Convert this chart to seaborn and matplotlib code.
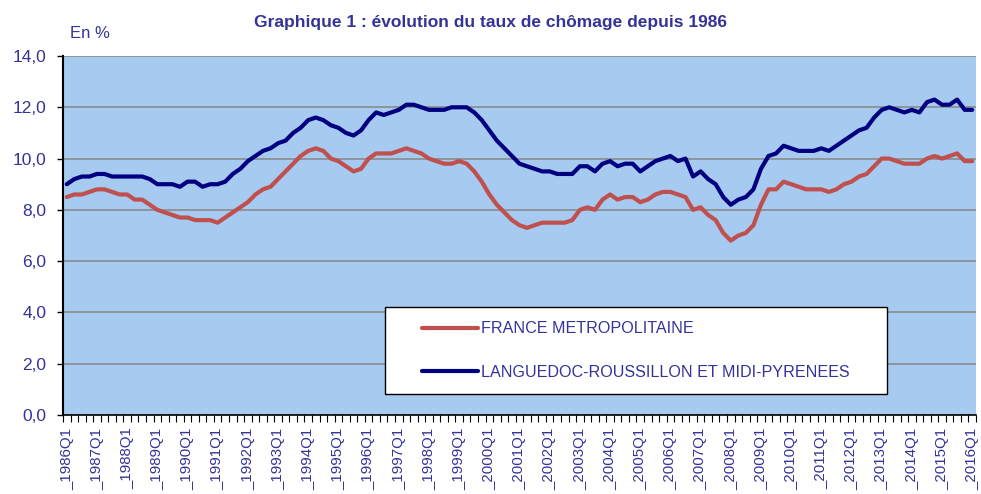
import numpy as np
import pandas as pd
import matplotlib
matplotlib.use('Agg')
import matplotlib.pyplot as plt
import seaborn as sns
from matplotlib.lines import Line2D
from matplotlib.legend_handler import HandlerLine2D

# Trimestres de 1986Q1 a 2016Q1
annees = list(range(1986, 2017))
trimestres = [f"{a}Q{q}" for a in annees for q in range(1, 5)][:121]

# Taux de chomage France metropolitaine (en %)
france = [
    8.5, 8.6, 8.6, 8.7, 8.8, 8.8, 8.7, 8.6, 8.6, 8.4,
    8.4, 8.2, 8.0, 7.9, 7.8, 7.7, 7.7, 7.6, 7.6, 7.6,
    7.5, 7.7, 7.9, 8.1, 8.3, 8.6, 8.8, 8.9, 9.2, 9.5,
    9.8, 10.1, 10.3, 10.4, 10.3, 10.0, 9.9, 9.7, 9.5, 9.6,
    10.0, 10.2, 10.2, 10.2, 10.3, 10.4, 10.3, 10.2, 10.0, 9.9,
    9.8, 9.8, 9.9, 9.8, 9.5, 9.1, 8.6, 8.2, 7.9, 7.6,
    7.4, 7.3, 7.4, 7.5, 7.5, 7.5, 7.5, 7.6, 8.0, 8.1,
    8.0, 8.4, 8.6, 8.4, 8.5, 8.5, 8.3, 8.4, 8.6, 8.7,
    8.7, 8.6, 8.5, 8.0, 8.1, 7.8, 7.6, 7.1, 6.8, 7.0,
    7.1, 7.4, 8.2, 8.8, 8.8, 9.1, 9.0, 8.9, 8.8, 8.8,
    8.8, 8.7, 8.8, 9.0, 9.1, 9.3, 9.4, 9.7, 10.0, 10.0,
    9.9, 9.8, 9.8, 9.8, 10.0, 10.1, 10.0, 10.1, 10.2, 9.9, 9.9,
]

# Taux de chomage Languedoc-Roussillon et Midi-Pyrenees (en %)
region = [
    9.0, 9.2, 9.3, 9.3, 9.4, 9.4, 9.3, 9.3, 9.3, 9.3,
    9.3, 9.2, 9.0, 9.0, 9.0, 8.9, 9.1, 9.1, 8.9, 9.0,
    9.0, 9.1, 9.4, 9.6, 9.9, 10.1, 10.3, 10.4, 10.6, 10.7,
    11.0, 11.2, 11.5, 11.6, 11.5, 11.3, 11.2, 11.0, 10.9, 11.1,
    11.5, 11.8, 11.7, 11.8, 11.9, 12.1, 12.1, 12.0, 11.9, 11.9,
    11.9, 12.0, 12.0, 12.0, 11.8, 11.5, 11.1, 10.7, 10.4, 10.1,
    9.8, 9.7, 9.6, 9.5, 9.5, 9.4, 9.4, 9.4, 9.7, 9.7,
    9.5, 9.8, 9.9, 9.7, 9.8, 9.8, 9.5, 9.7, 9.9, 10.0,
    10.1, 9.9, 10.0, 9.3, 9.5, 9.2, 9.0, 8.5, 8.2, 8.4,
    8.5, 8.8, 9.6, 10.1, 10.2, 10.5, 10.4, 10.3, 10.3, 10.3,
    10.4, 10.3, 10.5, 10.7, 10.9, 11.1, 11.2, 11.6, 11.9, 12.0,
    11.9, 11.8, 11.9, 11.8, 12.2, 12.3, 12.1, 12.1, 12.3, 11.9, 11.9,
]

series = ["FRANCE METROPOLITAINE", "LANGUEDOC-ROUSSILLON ET MIDI-PYRENEES"]
couleurs = {"FRANCE METROPOLITAINE": "#C0504D",
            "LANGUEDOC-ROUSSILLON ET MIDI-PYRENEES": "#000080"}

x = np.arange(len(trimestres))
df = pd.concat([
    pd.DataFrame({"x": x, "Taux": france, "Zone": series[0]}),
    pd.DataFrame({"x": x, "Taux": region, "Zone": series[1]}),
])

sns.set_style("white")
plt.rcParams['font.family'] = ['Liberation Sans', 'DejaVu Sans']
texte = "#333399"

fig = plt.figure(figsize=(9.81, 4.94), dpi=100)
ax = fig.add_axes([63 / 981, 1 - 415 / 494, 913 / 981, 359 / 494])
ax.set_facecolor("#A6CAF0")

sns.lineplot(data=df, x="x", y="Taux", hue="Zone", palette=couleurs,
             linewidth=3, ax=ax, legend=True)
for ln in ax.get_lines():
    ln.set_solid_capstyle("round")
    ln.set_solid_joinstyle("round")

ax.set_xlim(-0.5, len(trimestres) - 0.5)
ax.set_ylim(0, 14)
ax.set_yticks(np.arange(0, 15, 2))
ax.set_yticklabels([f"{v:.1f}".replace(".", ",") for v in np.arange(0, 15, 2)])
ax.yaxis.grid(True, color="#868686", linewidth=1.1)
ax.set_axisbelow(True)

# une etiquette par annee (Q1), petits traits a chaque trimestre
pos_annees = x[::4]
ax.set_xticks(pos_annees)
ax.set_xticklabels(["_" + trimestres[i] for i in pos_annees], rotation=90)
ax.set_xticks(np.arange(-0.5, len(trimestres), 1), minor=True)
ax.tick_params(axis="x", which="major", length=0, pad=9, labelsize=10.8, labelcolor=texte)
ax.tick_params(axis="x", which="minor", length=5, width=0.8, color="black", direction="out")
ax.tick_params(axis="y", length=4.5, width=1, color="black", direction="out",
               labelsize=12.5, labelcolor=texte, pad=7.5)
ax.tick_params(bottom=True, left=True, which="both")

for s in ["top", "right"]:
    ax.spines[s].set_visible(False)
ax.spines["left"].set_color("black")
ax.spines["left"].set_linewidth(1.5)
ax.spines["bottom"].set_color("black")
ax.spines["bottom"].set_linewidth(1.2)

ax.set_xlabel("")
ax.set_ylabel("")

handles = [Line2D([], [], color=couleurs[s], linewidth=3, solid_capstyle="round") for s in series]
leg = ax.legend(handles, series, loc="upper left",
                bbox_to_anchor=(385 / 981, 1 - 307 / 494, 502 / 981, 0),
                bbox_transform=fig.transFigure, mode="expand", borderaxespad=0,
                fontsize=11.6, labelcolor=texte, frameon=True, fancybox=False,
                edgecolor="black", facecolor="white", framealpha=1,
                borderpad=0.89, labelspacing=1.78, handlelength=4.89,
                handletextpad=0.19, handler_map={Line2D: HandlerLine2D(xpad=1.41)})
leg.get_frame().set_linewidth(1.0)

fig.text(490 / 981, 1 - 22 / 494, "Graphique 1 : évolution du taux de chômage depuis 1986",
         ha="center", va="center", fontsize=12.5, fontweight="bold", color=texte)
fig.text(70 / 981, 1 - 33 / 494, "En %", ha="left", va="center", fontsize=12, color=texte)

fig.savefig("out.png", dpi=100)
